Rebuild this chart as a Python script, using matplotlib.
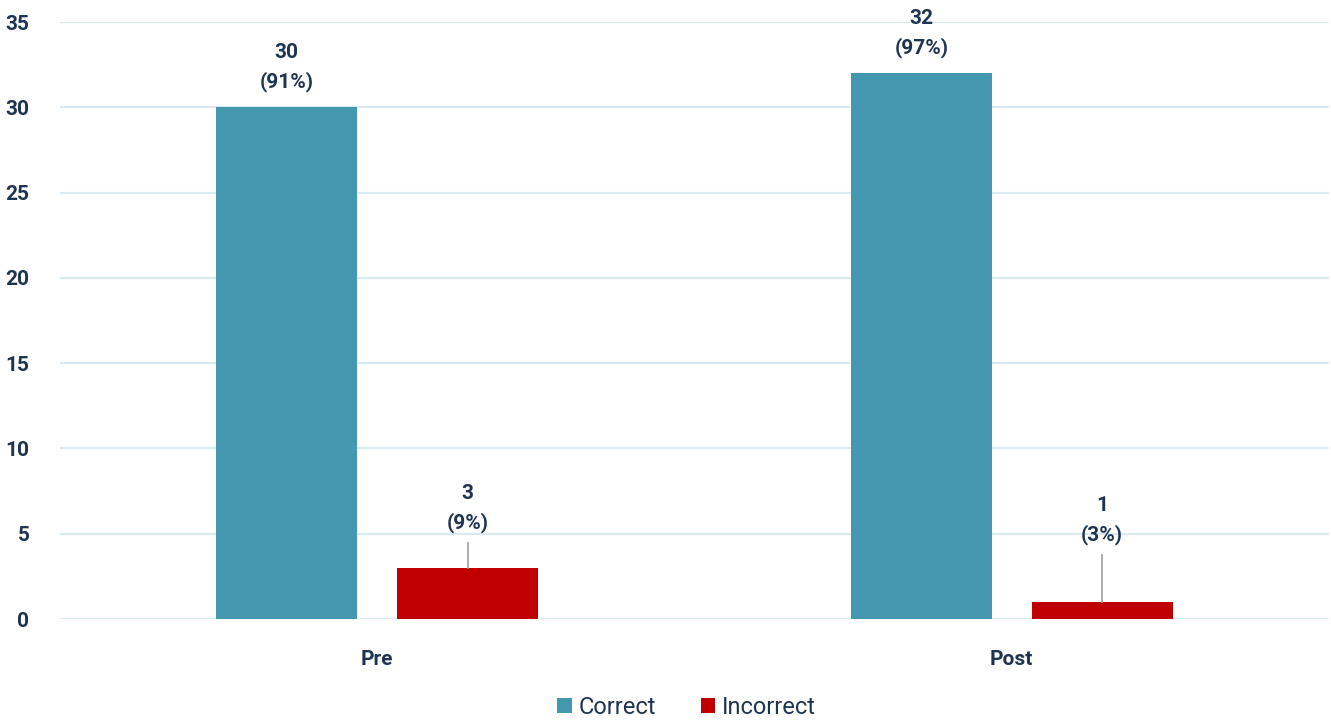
import matplotlib
matplotlib.use("Agg")
import matplotlib.pyplot as plt
import numpy as np

categories = ["Pre", "Post"]
series_names = ["Correct", "Incorrect"]
correct = [30, 32]
incorrect = [3, 1]
correct_pct = [91, 97]
incorrect_pct = [9, 3]
yticks = [0, 5, 10, 15, 20, 25, 30, 35]

teal = "#4398b0"
red = "#c00000"
text_col = "#1e3552"
grid_col = "#dbeaf1"

plt.rcParams['font.family'] = ['Roboto', 'DejaVu Sans']

fig = plt.figure(figsize=(13.31, 7.24), dpi=100)
ax = fig.add_axes([0.045, 0.145, 0.9535, 0.8246])

x = np.arange(len(categories))
w = 0.222
off = 0.1425
b1 = ax.bar(x - off, correct, w, color=teal, zorder=3, label=series_names[0])
b2 = ax.bar(x + off, incorrect, w, color=red, zorder=3, label=series_names[1])

ax.set_xlim(-0.5, 1.5)
ax.set_ylim(0, 35)
ax.set_yticks(yticks)
ax.yaxis.grid(True, color=grid_col, linewidth=1.6, zorder=0)
ax.set_axisbelow(True)
for s in ax.spines.values():
    s.set_visible(False)
ax.tick_params(axis='both', length=0, labelsize=15, labelcolor=text_col)
ax.tick_params(axis='y', pad=22)
ax.tick_params(axis='x', pad=22)
ax.set_xticks(x)
ax.set_xticklabels(categories, fontweight='bold')
for lab in ax.get_yticklabels():
    lab.set_fontweight('bold')

# labels on correct bars
for xi, v, p in zip(x - off, correct, correct_pct):
    ax.annotate(f"{v}\n({p}%)", (xi, v), xytext=(0, 11), textcoords='offset points',
                ha='center', va='bottom', fontsize=15, fontweight='bold',
                color=text_col, linespacing=1.6)

# labels on incorrect bars with leader lines
lift = [1.45, 2.75]
for xi, v, p, l in zip(x + off, incorrect, incorrect_pct, lift):
    ax.plot([xi, xi], [v, v + l], color='#a0a0a0', linewidth=1.2, zorder=4)
    ax.annotate(f"{v}\n({p}%)", (xi, v + l), xytext=(0, 7), textcoords='offset points',
                ha='center', va='bottom', fontsize=15, fontweight='bold',
                color=text_col, linespacing=1.6)

leg = fig.legend(handles=[b1, b2], labels=series_names, loc='lower center',
                 bbox_to_anchor=(0.516, -0.022), ncol=2, frameon=False,
                 fontsize=17, handlelength=0.6, handleheight=0.6,
                 handletextpad=0.3, columnspacing=1.9)
for t in leg.get_texts():
    t.set_color(text_col)

fig.savefig("out.png", dpi=100)
